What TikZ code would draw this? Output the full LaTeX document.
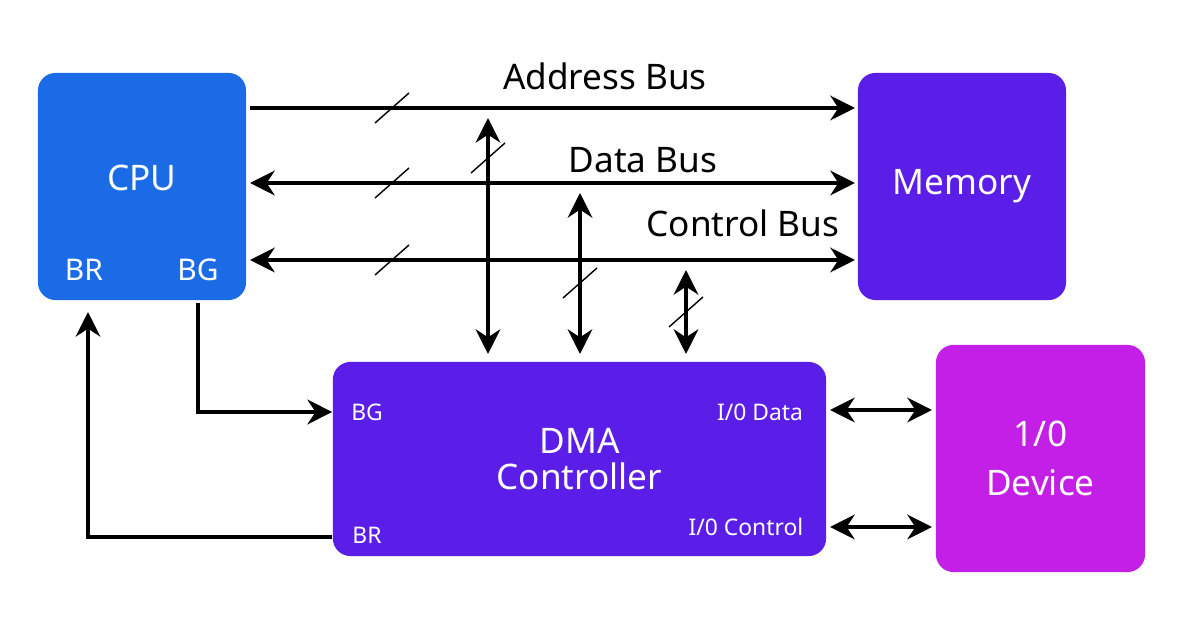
\documentclass[tikz,border=0pt]{standalone}
\usepackage{fontspec}
\setmainfont{Noto Sans}
\usetikzlibrary{arrows.meta}
\definecolor{cpublue}{HTML}{1B6BE6}
\definecolor{dmaviolet}{HTML}{5A1EE8}
\definecolor{iopink}{HTML}{C41FE6}
\tikzset{
  unit/.style={rounded corners=5pt, text=white, font=\fontsize{10}{12}\selectfont, align=center, inner sep=0pt},
  bus/.style={line width=1.3pt, -{Stealth[length=7pt,width=7pt]}},
  dbus/.style={line width=1.3pt, {Stealth[length=7pt,width=7pt]}-{Stealth[length=7pt,width=7pt]}},
  pin/.style={text=white, font=\fontsize{6.5}{8}\selectfont, inner sep=0pt},
  slash/.style={line width=0.4pt}
}
\begin{document}
\begin{tikzpicture}[x=0.01cm,y=-0.01cm]
\useasboundingbox (0,0) rectangle (1196,628);
\fill[white] (0,0) rectangle (1196,628);

% boxes
\node[unit, fill=cpublue, minimum width=2.08cm, minimum height=2.27cm] (cpu) at (142,186.5) {};
\node[text=white, font=\fontsize{10}{12}\selectfont] (cpulabel) at (142,178) {CPU};
\node[pin, font=\fontsize{8.5}{10}\selectfont] (cpubr) at (84,270) {BR};
\node[pin, font=\fontsize{8.5}{10}\selectfont] (cpubg) at (198,270) {BG};
\node[unit, fill=dmaviolet, minimum width=2.08cm, minimum height=2.27cm] (mem) at (962,186.5) {Memory};
\node[unit, fill=dmaviolet, minimum width=4.93cm, minimum height=1.94cm] (dma) at (579.5,459) {DMA\\[-2pt]Controller};
\node[unit, fill=iopink, minimum width=2.09cm, minimum height=2.27cm] (io) at (1040.5,458.5) {1/0\\[2pt]Device};
\node[pin] (dmabg) at (367,412) {BG};
\node[pin] (dmabr) at (367,535) {BR};
\node[pin] (iodata) at (760,412) {I/0 Data};
\node[pin] (ioctrl) at (746,527) {I/0 Control};

% buses
\coordinate (ab0) at (250,108); \coordinate (ab1) at (855,108);
\coordinate (db0) at (250,183); \coordinate (db1) at (855,183);
\coordinate (cb0) at (250,260); \coordinate (cb1) at (855,260);
\draw[bus] (ab0) -- (ab1);
\draw[dbus] (db0) -- (db1);
\draw[dbus] (cb0) -- (cb1);
\node[font=\fontsize{10}{12}\selectfont] (ablabel) at (605,76) {Address Bus};
\node[font=\fontsize{10}{12}\selectfont] (dblabel) at (643,160) {Data Bus};
\node[font=\fontsize{10}{12}\selectfont] (cblabel) at (743,223) {Control Bus};

\coordinate (va0) at (488,118); \coordinate (va1) at (488,354);
\coordinate (vd0) at (580,193); \coordinate (vd1) at (580,354);
\coordinate (vc0) at (686,270); \coordinate (vc1) at (686,354);
\draw[dbus] (va0) -- (va1);
\draw[dbus] (vd0) -- (vd1);
\draw[dbus] (vc0) -- (vc1);

% bus width marks
\foreach \x/\y in {392/108, 392/183, 392/260, 488/158, 580/283, 686/312}
  \draw[slash] (\x-17,\y+15) -- (\x+17,\y-15);

% request / grant lines
\coordinate (bgturn) at (198,412);
\coordinate (brturn) at (88,537);
\draw[bus] (cpubg.south |- 0,303) -- (bgturn) -- (dma.west |- bgturn);
\draw[bus] (dma.west |- brturn) -- (brturn) -- (88,312);
\draw[dbus] (830,410) -- (932,410);
\draw[dbus] (830,527) -- (932,527);
\end{tikzpicture}
\end{document}
